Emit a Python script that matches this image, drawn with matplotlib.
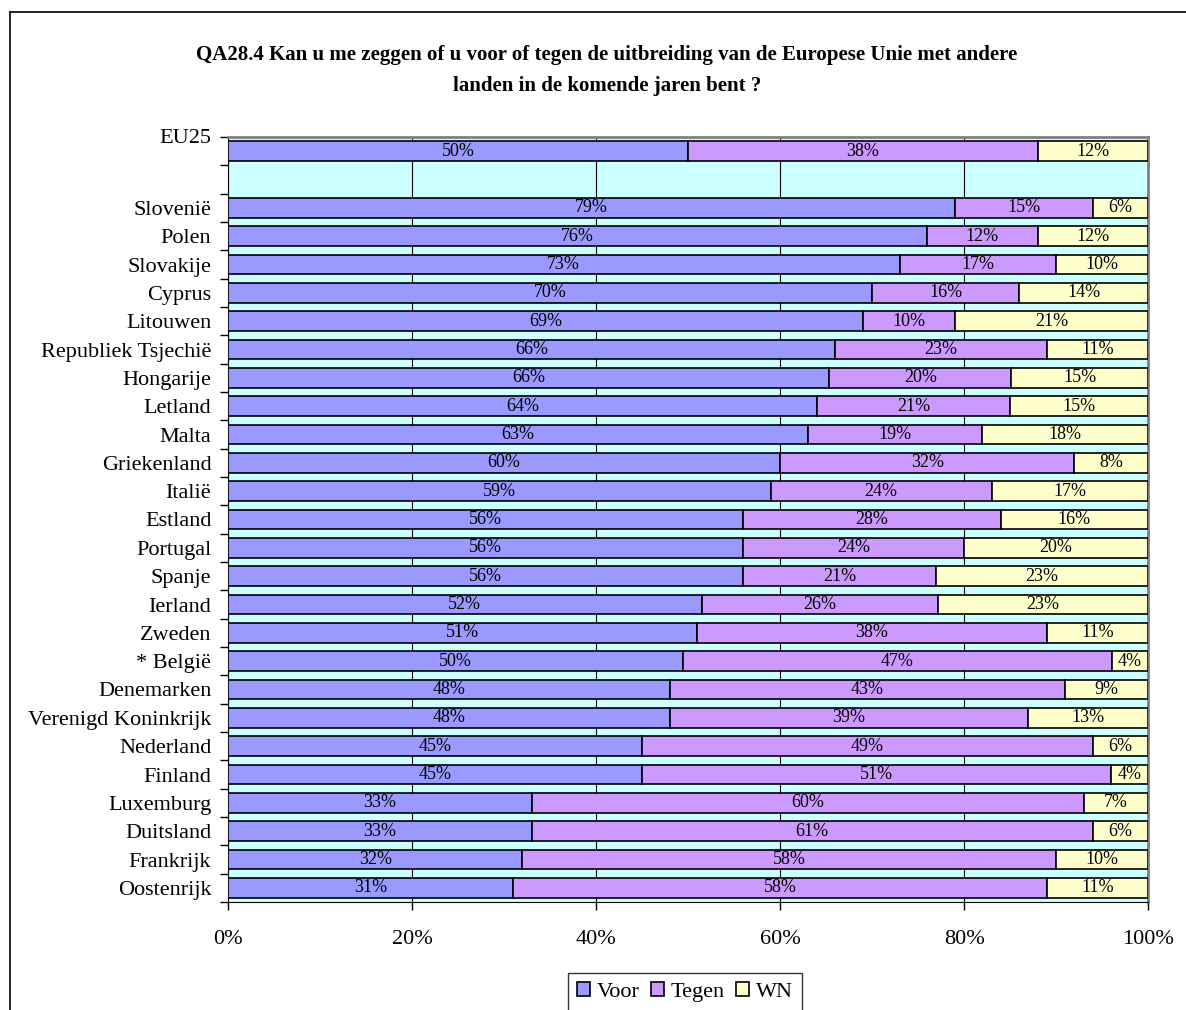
import matplotlib.pyplot as plt
import matplotlib.transforms as mtransforms
import numpy as np

plt.rcParams['font.family'] = ['Liberation Serif', 'DejaVu Serif']

# rows top to bottom; EU25 first, then a gap, then the countries
eu_label = "EU25"
countries = ["Slovenië", "Polen", "Slovakije", "Cyprus", "Litouwen",
             "Republiek Tsjechië", "Hongarije", "Letland", "Malta",
             "Griekenland", "Italië", "Estland", "Portugal", "Spanje",
             "Ierland", "Zweden", "* België", "Denemarken",
             "Verenigd Koninkrijk", "Nederland", "Finland", "Luxemburg",
             "Duitsland", "Frankrijk", "Oostenrijk"]

eu_values = [50, 38, 12]
voor = [79, 76, 73, 70, 69, 66, 66, 64, 63, 60, 59, 56, 56, 56, 52, 51, 50,
        48, 48, 45, 45, 33, 33, 32, 31]
tegen = [15, 12, 17, 16, 10, 23, 20, 21, 19, 32, 24, 28, 24, 21, 26, 38, 47,
         43, 39, 49, 51, 60, 61, 58, 58]
wn = [6, 12, 10, 14, 21, 11, 15, 15, 18, 8, 17, 16, 20, 23, 23, 11, 4,
      9, 13, 6, 4, 7, 6, 10, 11]

series_names = ["Voor", "Tegen", "WN"]
colors = ["#9999FF", "#CC99FF", "#FFFFCC"]

labels = [eu_label] + countries
raw = np.array([eu_values] + [list(r) for r in zip(voor, tegen, wn)], dtype=float)
ypos = np.array([0] + list(range(2, 2 + len(countries))))
# 100% stacked: normalise each row
pct = raw / raw.sum(axis=1, keepdims=True) * 100

fig = plt.figure(figsize=(11.86, 10.10), dpi=100)
ax = fig.add_axes([228 / 1186, 1 - 902 / 1010, 920 / 1186, 765 / 1010])
ax.set_facecolor("#CCFFFF")

left = np.zeros(len(labels))
for i, name in enumerate(series_names):
    ax.barh(ypos, pct[:, i], left=left, height=0.7, color=colors[i],
            edgecolor="black", linewidth=1.2, label=name, zorder=3)
    for y, l, w, v in zip(ypos, left, pct[:, i], raw[:, i]):
        ax.text(l + w / 2, y, f"{v:.0f}%", ha="center", va="center",
                fontsize=13, zorder=4)
    left += pct[:, i]

ax.set_xlim(0, 100)
ax.set_ylim(26.5, -0.5)
ax.set_xticks([0, 20, 40, 60, 80, 100])
ax.set_xticklabels(["0%", "20%", "40%", "60%", "80%", "100%"], fontsize=16)
ax.tick_params(axis="x", direction="out", length=6, width=1, pad=14)
ax.grid(axis="x", color="black", linewidth=0.8, zorder=1)

ax.set_yticks(ypos)
ax.set_yticklabels(labels, fontsize=16)
ax.tick_params(axis="y", which="major", length=0, pad=12)
ax.set_yticks(np.arange(-0.5, 27, 1), minor=True)
ax.tick_params(axis="y", which="minor", direction="out", length=6, width=1)

# EU25 label sits a bit higher in the original
off = mtransforms.ScaledTranslation(0, 15 / 100, fig.dpi_scale_trans)
lab0 = ax.get_yticklabels()[0]
lab0.set_transform(lab0.get_transform() + off)

for s in ["top", "right"]:
    ax.spines[s].set_color("#808080")
    ax.spines[s].set_linewidth(2)
ax.spines["left"].set_color("black")
ax.spines["bottom"].set_color("black")

fig.text(607 / 1186, 1 - 55 / 1010,
         "QA28.4 Kan u me zeggen of u voor of tegen de uitbreiding van de Europese Unie met andere",
         ha="center", va="center", fontsize=15, fontweight="bold")
fig.text(607 / 1186, 1 - 86 / 1010, "landen in de komende jaren bent ?",
         ha="center", va="center", fontsize=15, fontweight="bold")

leg = fig.legend(loc="upper center", bbox_to_anchor=(685 / 1186, 1 - 973 / 1010),
                 ncol=3, fontsize=16, frameon=True, fancybox=False,
                 borderaxespad=0, handlelength=0.6, handleheight=0.6,
                 handletextpad=0.3, columnspacing=0.5, borderpad=0.4)
leg.get_frame().set_edgecolor("black")
leg.get_frame().set_linewidth(1)

# outer chart border (left and top visible)
fig.add_artist(plt.Line2D([10 / 1186, 10 / 1186], [0, 1 - 12 / 1010],
                          color="black", linewidth=1.2))
fig.add_artist(plt.Line2D([10 / 1186, 1], [1 - 12 / 1010, 1 - 12 / 1010],
                          color="black", linewidth=1.2))

fig.savefig("out.png", dpi=100)
